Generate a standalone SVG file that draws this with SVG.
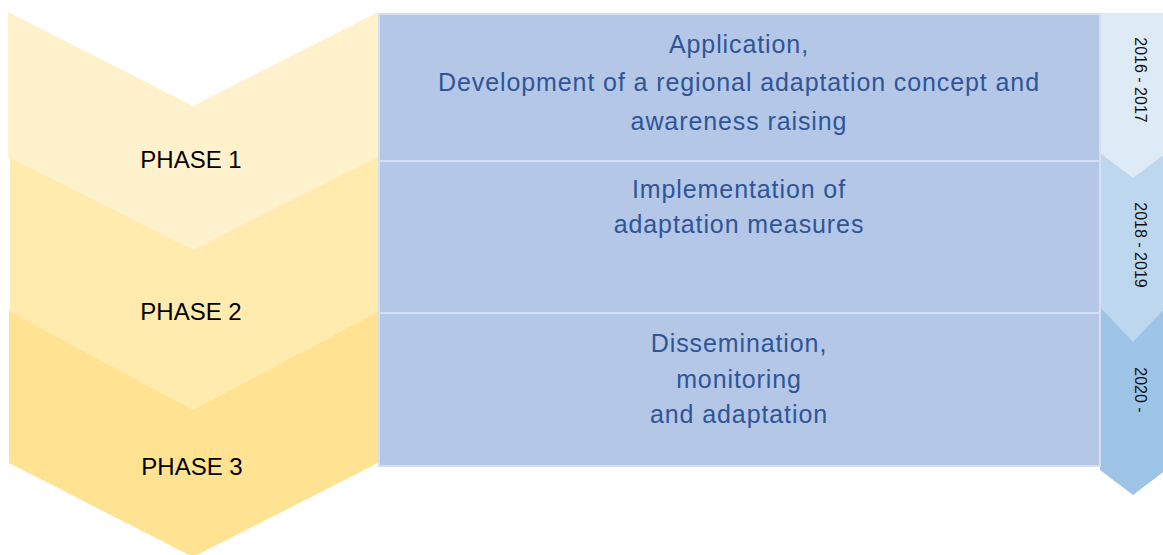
<svg xmlns="http://www.w3.org/2000/svg" width="1163" height="555" viewBox="0 0 1163 555">
<style>
.phase{font-family:"Liberation Sans",Arial,sans-serif;font-size:24px;fill:#000;text-anchor:middle}
.desc{font-family:"Liberation Sans",Arial,sans-serif;font-size:25px;letter-spacing:0.9px;fill:#2F5597;text-anchor:middle}
.year{font-family:"Liberation Sans",Arial,sans-serif;font-size:16px;fill:#111;text-anchor:middle}
.box{fill:#B4C7E7;stroke:#D5DFF1;stroke-width:2}
</style>
<rect width="1163" height="555" fill="#fff"/>
<g id="phase3">
<polygon points="9,310 193,404 378,310 378,463 193,557 9,463" fill="#FFE392"/>
<text class="phase" x="192" y="475">PHASE 3</text>
</g>
<g id="phase2">
<polygon points="10,152 193,246 378,152 378,312 193,410 10,312" fill="#FFEBAD"/>
<text class="phase" x="191" y="320">PHASE 2</text>
</g>
<g id="phase1">
<polygon points="8,12 193,106 378,12 378,157 193,250 8,157" fill="#FFF1CC"/>
<text class="phase" x="191" y="168">PHASE 1</text>
</g>
<g id="years3">
<polygon points="1100,300 1133,325 1166,300 1166,470 1133,495 1100,470" fill="#9DC3E6"/>
<text class="year" transform="translate(1135,390) rotate(90)">2020 -</text>
</g>
<g id="years2">
<polygon points="1100,145 1133,170 1166,145 1166,307 1133,342 1100,307" fill="#BDD7EE"/>
<text class="year" transform="translate(1135,245) rotate(90)">2018 - 2019</text>
</g>
<g id="years1">
<polygon points="1100,13 1166,13 1166,153 1133,178 1100,153" fill="#DEEBF7"/>
<text class="year" transform="translate(1135,80) rotate(90)">2016 - 2017</text>
</g>
<g id="box1">
<rect class="box" x="379" y="14" width="721" height="147"/>
<text class="desc" x="739" y="53">Application,</text>
<text class="desc" x="739" y="91">Development of a regional adaptation concept and</text>
<text class="desc" x="739" y="130">awareness raising</text>
</g>
<g id="box2">
<rect class="box" x="379" y="161" width="721" height="152"/>
<text class="desc" x="739" y="198">Implementation of</text>
<text class="desc" x="739" y="233">adaptation measures</text>
</g>
<g id="box3">
<rect class="box" x="379" y="313" width="721" height="153"/>
<text class="desc" x="739" y="352">Dissemination,</text>
<text class="desc" x="739" y="388">monitoring</text>
<text class="desc" x="739" y="423">and adaptation</text>
</g>
<g id="connectors"></g>
</svg>
